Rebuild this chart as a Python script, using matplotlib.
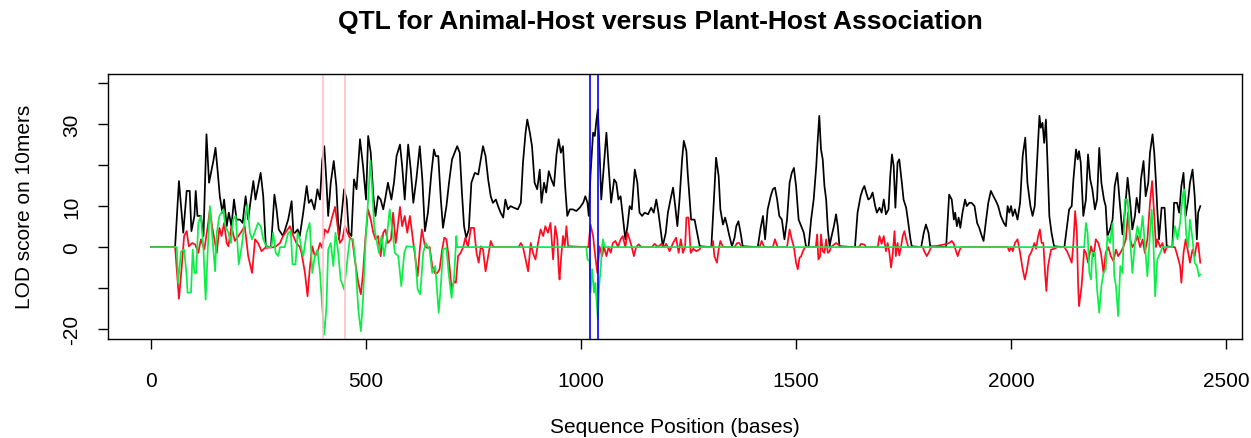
import numpy as np
import matplotlib
matplotlib.use("Agg")
import matplotlib.pyplot as plt

plt.rcParams['font.family'] = ['Liberation Sans', 'DejaVu Sans']

# LOD traces: (sequence position, LOD)
black_pts = [(0,0),(56,0),(65,16.1),(75,3.5),(83,13.7),(90,13.7),(94,3.9),(101,7.6),(104,13.7),(108,7.6),(116,7.6),(122,2.7),(129,27.5),(135,15.7),(145,21),(150,24.2),(155,18.5),(160,12.4),(166,8.4),(170,11.6),(176,5.1),(181,8.4),(187,5.1),(193,11.6),(199,6.7),(207,6.7),(213,5.9),(220,12.4),(226,6.7),(232,11.6),(238,16.1),(243,11.6),(249,14.9),(255,18.1),(261,12.4),(267,0.2),(279,0),(287,12.8),(292,9.2),(297,4.3),(307,2.7),(319,6.7),(327,11.2),(331,3.5),(335,3.5),(341,4.3),(346,2.7),(354,8.4),(362,14.9),(367,10.8),(373,11.6),(380,9.2),(387,14.1),(393,11.6),(398,21),(403,24.6),(408,15.7),(412,7.6),(418,15.7),(425,21),(431,14.9),(437,1.9),(443,7.6),(449,14.1),(455,11.6),(460,3.5),(466,2.7),(472,16.5),(478,14.1),(486,26.3),(493,19.8),(500,11.6),(505,27.1),(511,23),(517,12.4),(522,7.6),(528,12.4),(534,11.6),(540,9.2),(545,12),(551,15.7),(559,11.6),(565,15.7),(571,22.2),(579,25),(584,19.8),(590,11.6),(598,25),(604,18.9),(610,10.8),(617,16.5),(625,24.6),(631,16.5),(637,3.9),(644,8.4),(652,18.1),(658,23.8),(662,22.2),(668,22.2),(674,11.6),(679,4.7),(687,10),(693,15.7),(700,21.4),(706,23),(712,24.6),(718,23),(723,13.3),(728,5.1),(733,2.3),(739,4.3),(745,15.7),(753,18.1),(761,17.7),(767,21.4),(772,24.6),(778,22.2),(784,16.5),(790,12.4),(795,10.8),(802,11.6),(807,10),(813,8.4),(819,7.2),(824,11.6),(830,9.2),(836,10),(844,9.6),(853,9.2),(860,10.8),(865,20.6),(871,27.9),(875,31.1),(881,27.9),(886,24.6),(892,15.7),(898,14.1),(904,18.9),(908,10.8),(914,15.7),(919,13.3),(925,18.5),(931,16.5),(937,14.9),(943,22.6),(948,26.3),(953,23),(958,24.6),(963,14.9),(968,7.6),(974,9.2),(981,9.2),(989,8.8),(997,9.6),(1005,10.8),(1010,12.4),(1015,10.8),(1018,7.6),(1022,17.6),(1028,27.9),(1032,27.1),(1036,31.1),(1039,33.6),(1043,23.8),(1047,11.6),(1053,19.8),(1059,27.9),(1064,19.8),(1070,10.8),(1077,16.5),(1082,15.7),(1087,11.6),(1092,12.4),(1097,7.6),(1103,1.9),(1108,5.1),(1113,10),(1118,9.2),(1125,18.9),(1131,15.7),(1136,8.4),(1142,7.6),(1148,8.4),(1156,8),(1163,9.6),(1169,8.4),(1175,11.6),(1180,8.4),(1185,4.3),(1190,0.2),(1197,3.5),(1202,8.4),(1208,11.6),(1214,14.5),(1219,10),(1224,5.1),(1229,11.6),(1235,21.4),(1239,25.9),(1245,23.4),(1248,18.1),(1252,12.4),(1256,6.7),(1264,6.7),(1270,3.5),(1276,0.2),(1303,0),(1309,11.6),(1314,21.8),(1320,17.3),(1324,9.2),(1330,5.5),(1335,7.2),(1340,5.1),(1345,2.7),(1351,0.2),(1357,2.3),(1361,5.1),(1366,6.3),(1371,3.5),(1376,0.2),(1411,0),(1417,4.3),(1423,7.6),(1428,1.9),(1434,9.2),(1441,12.4),(1446,14.1),(1451,14.5),(1456,11.6),(1461,7.6),(1467,6.7),(1473,1.9),(1479,6.7),(1485,15.7),(1490,18.1),(1495,19.3),(1500,14.9),(1506,6.7),(1512,5.1),(1518,3.5),(1523,0.2),(1529,0),(1535,6.7),(1541,11.6),(1547,19.8),(1550,25.4),(1554,32),(1558,23.8),(1562,21.4),(1566,14.9),(1570,11.6),(1574,4.3),(1578,0.2),(1581,1.9),(1588,5.1),(1593,8),(1597,5.1),(1601,0.2),(1637,0),(1643,8.4),(1650,12.4),(1655,14.1),(1659,14.9),(1663,13.3),(1668,11.6),(1673,12),(1678,13.3),(1684,10),(1688,8.4),(1694,9.6),(1699,8.4),(1704,11.6),(1709,8),(1715,9.2),(1719,17.3),(1723,22.6),(1727,19.8),(1731,9.6),(1736,20.6),(1740,21.4),(1746,15.7),(1750,11.6),(1756,9.6),(1761,5.9),(1766,1.9),(1769,0.2),(1791,0),(1797,3.5),(1802,5.5),(1808,3.5),(1812,0.2),(1849,0),(1856,12.8),(1862,11.6),(1867,6.7),(1870,8.4),(1874,5.1),(1878,7.2),(1882,4.7),(1887,8.4),(1893,11.6),(1897,10),(1903,10.8),(1908,10.8),(1915,10),(1921,5.9),(1926,4.7),(1932,2.7),(1936,1.5),(1942,6.7),(1947,10.8),(1953,13.7),(1959,12.4),(1965,11.2),(1970,10),(1976,7.6),(1983,5.9),(1988,5.1),(1992,10),(1996,8.4),(2000,10),(2004,7.6),(2009,9.2),(2015,6.7),(2021,10.8),(2027,22.2),(2033,26.7),(2038,15.7),(2045,10),(2050,7.6),(2055,10),(2060,19.8),(2066,32),(2069,29.1),(2073,30.3),(2077,25.4),(2081,31.1),(2085,19.8),(2089,7.6),(2094,3.5),(2100,0.2),(2124,0),(2130,5.1),(2135,9.2),(2141,10),(2145,16.5),(2151,23.8),(2155,21.4),(2158,23.4),(2162,20.6),(2168,7.6),(2174,11.6),(2179,22.6),(2184,16.5),(2189,14.1),(2195,9.2),(2200,11.6),(2205,24.2),(2210,15.7),(2216,11.6),(2220,10),(2224,2.7),(2230,4.3),(2236,6.7),(2241,14.9),(2247,18.1),(2254,9.2),(2259,3.1),(2265,9.2),(2271,16.9),(2277,10.8),(2282,4.3),(2288,7.6),(2292,12),(2298,8.4),(2302,16.5),(2308,21),(2313,12.4),(2319,15.7),(2323,23),(2329,27.5),(2333,23),(2337,15.7),(2340,9.2),(2344,1.9),(2350,9.6),(2357,9.6),(2362,0.2),(2375,0),(2379,10.8),(2386,10.8),(2391,8.4),(2396,14.9),(2401,18.1),(2406,7.6),(2412,11.6),(2416,15.7),(2422,18.9),(2427,12.4),(2432,1.9),(2435,8.4),(2440,10)]

red_pts = [(0,0),(56,0),(65,-12.6),(71,-5.4),(77,2.7),(83,3.9),(88,0.2),(96,1),(103,0.6),(110,-1.4),(116,1.9),(124,-0.6),(132,5.1),(137,9.2),(142,5.1),(149,1),(153,-1.4),(159,4.7),(164,2.7),(170,5.9),(176,1),(180,0.2),(187,5.1),(195,1.5),(203,2.7),(211,3.9),(218,5.1),(226,-2.2),(235,-6.3),(242,1.9),(249,1),(257,-1),(265,-0.2),(288,0),(300,1),(307,2.7),(315,3.9),(323,5.1),(331,2.7),(338,1),(346,0),(350,-1.4),(358,-6.3),(364,-12),(369,-5.4),(375,0.2),(381,-2.2),(387,-1.4),(393,1),(398,-0.2),(404,4.3),(411,3.5),(416,5.1),(422,7.6),(428,9.8),(434,5.1),(439,1),(445,1.9),(451,5.1),(457,3.5),(462,2.3),(468,1.9),(474,-3),(482,-8.7),(488,-11.5),(493,-6.3),(499,2.7),(505,9.2),(511,6.7),(517,3.5),(522,1.9),(528,2.7),(534,-2.2),(540,3.5),(545,4.3),(551,1),(558,1.9),(563,8.4),(569,1),(573,4.3),(579,9.8),(584,5.1),(590,7.6),(596,3.5),(602,7.6),(607,3.5),(613,-1.4),(620,-7.1),(625,-0.6),(630,4.3),(637,0.2),(643,-0.2),(648,0),(654,-4.6),(660,-6.3),(666,-6.3),(671,-5.4),(677,-0.6),(682,2.3),(687,1.9),(692,-2.2),(699,-10.3),(705,-8.3),(709,-8.7),(714,-2.2),(720,-1.4),(726,0),(731,2.3),(737,0),(744,4.7),(751,4.7),(757,-1.4),(762,-3.8),(767,0.2),(772,-0.6),(778,-5.9),(784,-2.2),(790,1.5),(795,0.2),(800,0),(855,0),(860,1),(865,0),(871,-3),(877,-5.9),(883,1),(888,-1.4),(894,-3),(900,1),(906,4.3),(912,2.7),(917,5.1),(923,3.5),(929,5.9),(935,-3),(940,5.1),(945,1.9),(948,-5.4),(950,-7.9),(954,-2.2),(958,2.7),(962,0.2),(966,5.1),(970,0.2),(1012,0),(1017,0),(1022,5.5),(1028,2.7),(1033,-2.2),(1038,-6.3),(1043,0.2),(1049,-2.2),(1053,0.2),(1059,-2.2),(1064,0),(1069,-1.4),(1074,1),(1080,1.5),(1086,0),(1092,1.9),(1097,2.7),(1103,0),(1108,3.5),(1113,1.9),(1118,0),(1123,-2.2),(1128,0),(1134,0.7),(1140,0),(1165,0),(1171,0.8),(1179,0),(1187,0.8),(1193,0),(1198,0.8),(1206,-1),(1214,1),(1221,2.3),(1227,-1.4),(1232,1.9),(1237,-1.4),(1242,0),(1245,7.2),(1250,7.2),(1255,-1.4),(1261,-0.4),(1268,-1),(1275,-0.6),(1279,0),(1304,0),(1307,1.5),(1310,-2.2),(1316,-3.8),(1320,-0.6),(1324,1.5),(1330,0),(1357,0),(1363,1),(1368,1),(1374,0),(1415,0),(1420,1.5),(1426,0),(1446,0),(1451,1.9),(1457,0),(1479,0),(1485,4.3),(1490,1.9),(1495,0),(1500,-3.8),(1504,-5.4),(1508,-2.6),(1512,-2.2),(1516,-1),(1521,0),(1546,0),(1549,3.1),(1552,-3),(1556,-2.2),(1558,3.1),(1562,-1),(1566,-1.4),(1570,1.9),(1574,-1.4),(1578,-1),(1581,0),(1588,0.6),(1593,1),(1598,0.6),(1605,0),(1647,0),(1651,0.8),(1659,0.6),(1663,0),(1690,0),(1694,2.7),(1699,0.8),(1704,2.7),(1709,-1),(1713,1),(1717,-1.4),(1721,-5),(1725,-1.4),(1729,3.9),(1732,-2.2),(1736,1),(1740,-2),(1744,0),(1748,2.7),(1752,3.9),(1756,1.9),(1761,0),(1795,0),(1798,-1),(1804,-2.2),(1810,-1),(1814,0),(1851,0.8),(1856,1),(1862,1.5),(1867,0.8),(1872,-1),(1876,-2.2),(1880,-0.8),(1884,0),(1992,0),(1996,-1),(2000,0),(2004,-1),(2009,1),(2015,1.9),(2021,-1.4),(2027,-5.4),(2032,-7.9),(2037,-5.4),(2042,-2.2),(2048,-1),(2054,1),(2058,-0.4),(2063,2.7),(2067,4.3),(2071,1),(2075,1),(2079,-6.3),(2082,-10.7),(2086,-4.6),(2093,-0.6),(2100,-0.4),(2108,0),(2124,0),(2130,-1),(2135,-2.2),(2141,-3.8),(2145,1),(2149,8.8),(2153,3.5),(2156,-9.5),(2158,-14.4),(2164,-9.5),(2170,-0.6),(2174,-1.4),(2179,-3.8),(2186,0.2),(2192,-2.2),(2197,1.9),(2203,1),(2209,-1.4),(2215,-6.3),(2220,-1.4),(2226,0),(2232,-2.2),(2238,-3.4),(2244,-0.6),(2249,-2.2),(2254,-1.4),(2261,0),(2267,1.9),(2272,8.4),(2277,1.9),(2282,0),(2288,1),(2294,2.7),(2300,0),(2306,1.9),(2311,-1.4),(2317,1.9),(2323,10.8),(2328,16.1),(2333,7.6),(2337,0),(2340,1.9),(2347,0),(2352,1),(2357,-1.4),(2362,0),(2381,0),(2387,-2.2),(2393,-4.6),(2396,-8.7),(2401,-1.4),(2406,1.9),(2412,-1.4),(2416,-3.8),(2422,-0.6),(2427,-2.2),(2432,1),(2435,1),(2440,-3.8)]

green_pts = [(0,0),(60,0),(63,-8.7),(70,-1),(77,-0.6),(83,-7.1),(85,-11.1),(93,-11.1),(97,-0.6),(101,-6.3),(105,-6.3),(110,5.9),(116,7.6),(122,-0.6),(127,-12.8),(132,-0.6),(137,10),(142,3.5),(149,-5.9),(153,3.5),(159,7.6),(164,8.4),(168,9.2),(173,5.1),(180,3.5),(186,1),(191,6.7),(197,7.6),(204,-4.2),(211,0.2),(218,6.7),(224,10.4),(230,3.5),(235,1.9),(242,3.9),(249,5.9),(255,5.1),(261,1.9),(269,0),(280,0),(284,3.5),(290,-1.4),(296,-2.2),(300,0),(311,0),(319,3.5),(325,3.9),(329,-4.2),(336,-4.2),(341,3.5),(346,2),(350,-0.5),(354,-2.2),(362,3.5),(369,5.9),(375,-6.3),(381,-2.2),(387,-0.6),(393,-6.3),(398,-14.4),(403,-21.3),(408,-14.4),(412,-0.6),(418,1),(424,-4.6),(429,3.5),(435,-1),(441,-7.9),(449,-10.3),(455,-4.6),(462,1.9),(470,1.9),(476,-4.6),(482,-15.2),(488,-20.5),(493,-12.8),(499,1.9),(505,11.6),(510,21),(514,14.9),(519,5.1),(524,1.9),(530,-1.4),(536,2.7),(542,-2.2),(548,1.9),(555,9.2),(562,3.5),(567,-1.4),(575,-2.2),(582,-9.5),(589,-1.4),(594,0.2),(613,0),(620,-10.3),(626,-11.5),(633,-1.4),(639,1),(644,0),(648,-0.6),(654,-6.3),(661,-4.6),(669,-16),(674,-9.5),(679,-0.6),(687,-0.2),(692,-6.3),(699,-12.4),(705,-7.1),(710,2.7),(712,0),(1012,0),(1015,-3),(1020,-3.4),(1022,-11.1),(1026,-5.4),(1030,-11.1),(1033,-8.7),(1036,-12.8),(1039,-17.6),(1042,-9.5),(1045,-6.3),(1049,0.2),(1051,1.9),(1055,0),(2170,0),(2174,5.9),(2178,3.5),(2182,-6.3),(2186,-7.9),(2189,-1.4),(2195,-1.4),(2200,-10.3),(2205,-16),(2210,-9.5),(2215,-6.3),(2220,-5.4),(2224,2.7),(2230,1),(2236,5.9),(2240,-7.1),(2244,-9.5),(2249,-16.8),(2254,-4.6),(2259,-6.3),(2265,11.6),(2271,11.6),(2277,1.9),(2282,-6.3),(2288,1),(2294,5.1),(2300,1.9),(2306,7.6),(2311,1),(2317,-7.1),(2323,3.5),(2327,9.2),(2331,1),(2335,-12),(2340,-3),(2347,-1.4),(2352,0),(2375,0),(2381,5.1),(2387,1.9),(2393,5.9),(2399,12.4),(2402,14.1),(2407,3.5),(2412,0),(2416,6.7),(2422,1.9),(2427,-3.8),(2432,-4.6),(2437,-7.1),(2440,-6.7)]

pink_marks = [400, 451]
blue_marks = [1020, 1039]

x_ticks = [0, 500, 1000, 1500, 2000, 2500]
y_ticks = [-20, -10, 0, 10, 20, 30, 40]
y_ticklabels = ['-20', '', '0', '10', '', '30', '']

W, H = 1251, 439
fig = plt.figure(figsize=(W / 100, H / 100), dpi=100)
ax = fig.add_axes([108 / W, 1 - 340 / H, (1242 - 108) / W, (340 - 75) / H])

for pts, col in [(black_pts, 'black'), (red_pts, '#ff0a1e'), (green_pts, '#0aee46')]:
    arr = np.array(pts)
    ax.plot(arr[:, 0], arr[:, 1], color=col, lw=1.25)

for p in pink_marks:
    ax.axvline(p, color='#ffc0cb', lw=1.2)
for p in blue_marks:
    ax.axvline(p, color='#0000ff', lw=1.2)

ax.set_xlim(-100, 2537)
ax.set_ylim(-22.4, 42.2)

ax.set_xticks(x_ticks)
ax.set_xticklabels([str(t) for t in x_ticks], fontsize=15)
ax.set_yticks(y_ticks)
ax.set_yticklabels(y_ticklabels, fontsize=15, rotation=90, va='center')
ax.tick_params(axis='x', length=7, width=1, pad=16)
ax.tick_params(axis='y', length=7, width=1, pad=12)
for s in ax.spines.values():
    s.set_linewidth(1)

fig.text(660 / W, 1 - 22 / H, 'QTL for Animal-Host versus Plant-Host Association',
         ha='center', va='center', fontsize=19, fontweight='bold')
fig.text(675 / W, 1 - 428 / H, 'Sequence Position (bases)', ha='center', va='center', fontsize=15)
fig.text(25 / W, 1 - 207 / H, 'LOD score on 10mers', ha='center', va='center',
         rotation=90, fontsize=15)

fig.savefig('out.png', dpi=100)
